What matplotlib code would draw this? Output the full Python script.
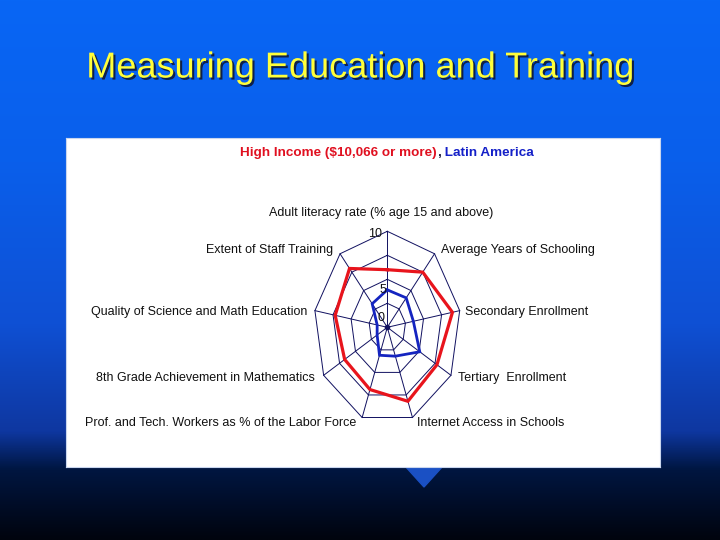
import matplotlib
matplotlib.use('Agg')
import matplotlib.pyplot as plt
import matplotlib.patheffects as pe
from matplotlib import font_manager
from matplotlib.patches import Polygon
import numpy as np

W, H = 720, 540

# radar data (scores 0-10), clockwise from the top
axis_labels = ['Adult literacy rate (% age 15 and above)', 'Average Years of Schooling',
               'Secondary Enrollment', 'Tertiary  Enrollment', 'Internet Access in Schools',
               'Prof. and Tech. Workers as % of the Labor Force',
               '8th Grade Achievement in Mathematics',
               'Quality of Science and Math Education', 'Extent of Staff Training']
high_income = [6.0, 7.5, 9.0, 7.8, 8.2, 6.9, 6.7, 7.2, 8.0]
latin_america = [3.9, 4.0, 3.6, 5.1, 3.2, 3.1, 1.6, 1.4, 3.2]
rings = [2.5, 5, 7.5, 10]
tick_labels = ['0', '5', '10']
rmax = 10

names = {f.name for f in font_manager.fontManager.ttflist}
if 'Liberation Sans Narrow' in names:
    lab_font, lab_size = 'Liberation Sans Narrow', 10
else:
    lab_font, lab_size = 'Liberation Sans', 9


def px(x, y):
    return x / W, 1 - y / H


fig = plt.figure(figsize=(W / 100, H / 100), dpi=100)

# slide background
bg = fig.add_axes([0, 0, 1, 1], zorder=-5)
stops = [0, 0.3, 0.6, 0.8, 0.87, 1.0]
cols = np.array([[8, 102, 245], [10, 95, 235], [15, 80, 212], [14, 55, 160],
                 [0, 22, 65], [0, 4, 14]]) / 255
yy = np.linspace(0, 1, 300)
grad = np.stack([np.interp(yy, stops, cols[:, k]) for k in range(3)], axis=1)
img = np.repeat(grad[:, None, :], 50, axis=1)
bg.imshow(img, extent=[0, 1, 1, 0], aspect='auto')
bg.add_patch(Polygon([(405 / W, 466 / H), (443 / W, 466 / H), (424 / W, 487 / H)],
                     closed=True, color='#1a50c4', transform=bg.transData))
bg.set_xlim(0, 1)
bg.set_ylim(1, 0)
bg.axis('off')

fig.text(0.5, 1 - 68 / H, 'Measuring Education and Training', color='#ffff3a',
         fontsize=26, family='Liberation Sans', ha='center', va='center',
         path_effects=[pe.withSimplePatchShadow(offset=(1.5, -1.5),
                                                shadow_rgbFace='#101020', alpha=0.8)])

# white panel holding the radar
x0, y0, x1, y1 = 66, 138, 660, 467
ax = fig.add_axes([x0 / W, 1 - y1 / H, (x1 - x0) / W, (y1 - y0) / H])
ax.set_facecolor('white')
for s in ax.spines.values():
    s.set_color('#c9d6ee')
ax.set_xticks([])
ax.set_yticks([])

cx, cy, rx, ry = 387.3, 327.3, 73.5, 96.0
ax.set_xlim(-(cx - x0) / rx, (x1 - cx) / rx)
ax.set_ylim(-(y1 - cy) / ry, (cy - y0) / ry)

ang = np.deg2rad(90 - 40 * np.arange(len(axis_labels)))
grid_c = '#101060'
for a in ang:
    ax.plot([0, np.cos(a)], [0, np.sin(a)], color=grid_c, lw=0.7)
for r in rings:
    f = r / rmax
    ax.plot(np.append(np.cos(ang), np.cos(ang[0])) * f,
            np.append(np.sin(ang), np.sin(ang[0])) * f, color=grid_c, lw=0.7)


def closed(v):
    v = np.append(v, v[0]) / rmax
    a = np.append(ang, ang[0])
    return v * np.cos(a), v * np.sin(a)


ax.plot(*closed(high_income), color='#e8141c', lw=2.3, solid_joinstyle='miter')
ax.plot(*closed(latin_america), color='#1424c0', lw=2.0, solid_joinstyle='miter')
ax.plot([0], [0], 'o', color='#101060', ms=3)

# scale labels
for t, (lx, ly) in zip(tick_labels, [(384, 318), (386, 290), (382, 234)]):
    fig.text(*px(lx, ly), t, ha='right', va='center', family=lab_font,
             fontsize=lab_size, color='#111111')

# axis labels: (x, y, ha)
label_pos = [(381, 213, 'center'), (441, 250, 'left'), (465, 312, 'left'),
             (458, 378, 'left'), (417, 423, 'left'), (356, 423, 'right'),
             (315, 378, 'right'), (307, 312, 'right'), (333, 250, 'right')]
for lab, (lx, ly, ha) in zip(axis_labels, label_pos):
    fig.text(*px(lx, ly), lab, ha=ha, va='center', family=lab_font,
             fontsize=lab_size, color='#111111')

# chart heading in two colours
bold = dict(family=lab_font, fontsize=lab_size + 0.7, fontweight='bold', va='center')
fig.canvas.draw()
r = fig.canvas.get_renderer()
t1 = fig.text(*px(240, 153), 'High Income ($10,066 or more)', color='#e01020', **bold)
e = t1.get_window_extent(r)
t2 = fig.text(e.x1 / W, 1 - 153 / H, ',', color='#202040', **bold)
e = t2.get_window_extent(r)
fig.text(e.x1 / W, 1 - 153 / H, ' Latin America', color='#1420c8', **bold)

fig.savefig('out.png', dpi=100)
